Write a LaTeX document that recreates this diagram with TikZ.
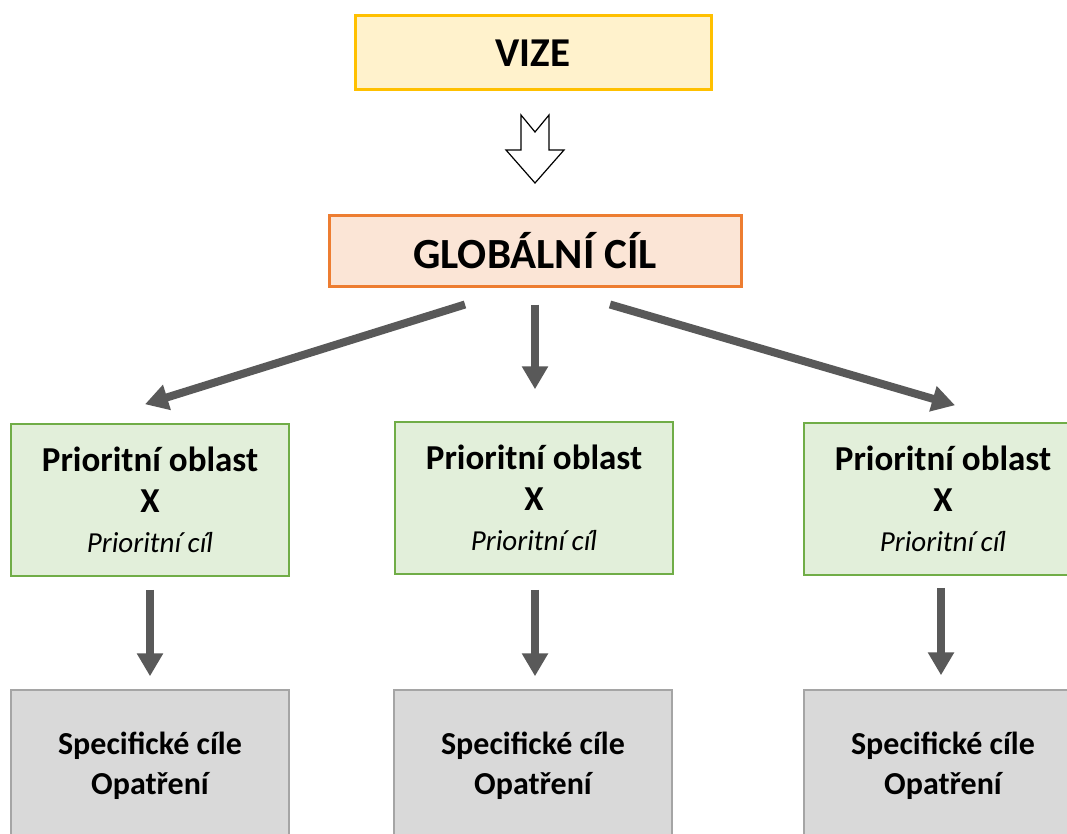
\documentclass[tikz,border=0pt]{standalone}
\usepackage{fontspec}
\setmainfont{Carlito}
\usetikzlibrary{arrows.meta}
\definecolor{vizefill}{HTML}{FFF2CC}
\definecolor{vizeline}{HTML}{FFC000}
\definecolor{globfill}{HTML}{FBE5D6}
\definecolor{globline}{HTML}{ED7D31}
\definecolor{pofill}{HTML}{E2EFDA}
\definecolor{poline}{HTML}{70AD47}
\definecolor{scfill}{HTML}{D9D9D9}
\definecolor{scline}{HTML}{A5A5A5}
\definecolor{arrgray}{HTML}{595959}
\tikzset{
  vizebox/.style={draw=vizeline, fill=vizefill, line width=3pt, minimum width=356pt, minimum height=74pt, inner sep=0pt,
    font=\fontsize{41}{48}\selectfont\bfseries},
  globbox/.style={draw=globline, fill=globfill, line width=3pt, minimum width=412pt, minimum height=70pt, inner sep=0pt,
    font=\fontsize{43}{50}\selectfont\bfseries},
  pobox/.style={draw=poline, fill=pofill, line width=1.5pt, minimum width=278pt, minimum height=152pt, inner sep=0pt,
    align=center, font=\fontsize{35}{41}\selectfont\bfseries},
  scbox/.style={draw=scline, fill=scfill, line width=1.5pt, minimum width=278pt, minimum height=152pt, inner sep=0pt,
    align=center, font=\fontsize{32}{40}\selectfont\bfseries},
  arr/.style={draw=arrgray, line width=8pt, -{Triangle[width=25pt,length=23pt]}},
  hollow/.style={draw=black, line width=1.2pt, fill=white, line join=miter},
}
\newcommand{\potext}{Prioritní oblast\\X\\[-1pt]\fontsize{29}{40}\selectfont\mdseries\itshape Prioritní cíl}
\begin{document}
\begin{tikzpicture}[x=1pt,y=-1pt]
\useasboundingbox (0,0) rectangle (1067,834);
\clip (0,0) rectangle (1067,834);
\fill[white] (0,0) rectangle (1067,834);

\node[vizebox] (vize) at (533,53) {VIZE};
\node[globbox] (glob) at (535,251) {GLOBÁLNÍ CÍL};

% hollow block arrow between VIZE and GLOBALNI CIL
\coordinate (ha) at (535,115);
\draw[hollow] ([shift={(-14,0)}]ha) -- ([shift={(0,17)}]ha) -- ([shift={(14,0)}]ha) -- ([shift={(14,35)}]ha)
  -- ([shift={(29,35)}]ha) -- ([shift={(0,68)}]ha) -- ([shift={(-29,35)}]ha) -- ([shift={(-14,35)}]ha) -- cycle;

\node[pobox] (po1) at (150,500) {\potext};
\node[pobox] (po2) at (534,498) {\potext};
\node[pobox] (po3) at (943,499) {\potext};

\node[scbox] (sc1) at (150,766) {Specifické cíle\\Opatření};
\node[scbox] (sc2) at (533,766) {Specifické cíle\\Opatření};
\node[scbox] (sc3) at (943,766) {Specifické cíle\\Opatření};

\draw[arr] ([shift={(-70,17)}]glob.south) -- ([shift={(-5,-19)}]po1.north);
\draw[arr] ([shift={(0,17)}]glob.south) -- ([shift={(1,-32)}]po2.north);
\draw[arr] ([shift={(75,17)}]glob.south) -- ([shift={(12,-17)}]po3.north);

\draw[arr] ([shift={(0,13)}]po1.south) -- ([shift={(0,-13)}]sc1.north);
\draw[arr] ([shift={(1,15)}]po2.south) -- ([shift={(2,-13)}]sc2.north);
\draw[arr] ([shift={(-2,12)}]po3.south) -- ([shift={(-2,-14)}]sc3.north);
\end{tikzpicture}
\end{document}
